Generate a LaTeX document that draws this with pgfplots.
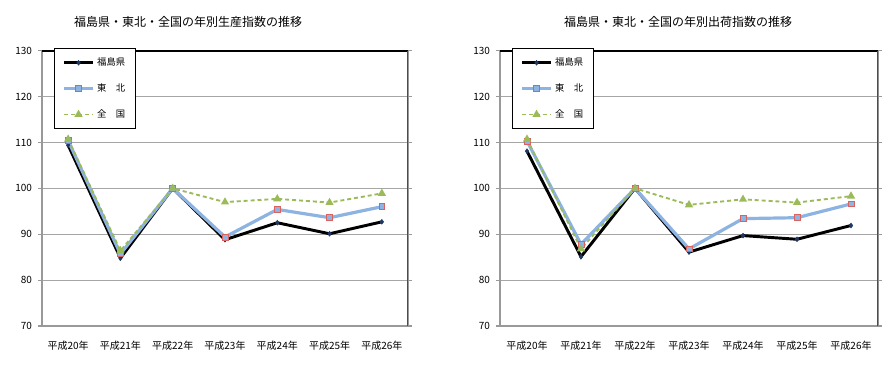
\documentclass[border=0pt]{standalone}
\usepackage{pgfplots}
\pgfplotsset{compat=1.18}
\usepackage{fontspec}
\setmainfont{Noto Sans CJK JP}
\definecolor{fkblack}{HTML}{000000}
\definecolor{fkmark}{HTML}{1F3864}
\definecolor{thblue}{HTML}{8DB3E2}
\definecolor{thred}{HTML}{D9625F}
\definecolor{zkgreen}{HTML}{9BBB59}
\pgfplotsset{
  base/.style={
    scale only axis,
    height=206.5pt,
    ymin=70, ymax=130,
    ytick={70,80,...,130},
    xmin=-0.5, xmax=6.5,
    xtick={-0.5,0.5,...,6.5},
    x tick label as interval,
    xticklabels={平成20年,平成21年,平成22年,平成23年,平成24年,平成25年,平成26年},
    ymajorgrids,
    grid style={draw=gray!70, line width=0.8pt},
    axis line style={draw=gray!80, line width=1.3pt},
    tick align=outside,
    major tick length=3pt,
    tick style={draw=gray!80, line width=0.8pt},
    major x tick style={draw=none},
    ticklabel style={font=\fontsize{7.5}{8}\selectfont},
    /pgf/number format/assume math mode=true,
    yticklabel style={xshift=-1pt},
    xticklabel style={yshift=-5pt},
    legend cell align=left,
    legend style={at={(0,1)}, anchor=north west, xshift=9pt, yshift=2pt,
      draw=black, line width=0.8pt, font=\fontsize{7}{8}\selectfont,
      row sep=8pt, inner xsep=6pt, inner ysep=5pt},
    legend image code/.code={\draw[mark repeat=2,mark phase=2,##1] plot coordinates {(0cm,0cm) (0.38cm,0cm) (0.76cm,0cm)};},
  },
  fk/.style={draw=black, line width=2.2pt, mark=diamond*, mark size=1.8pt, mark options={solid, draw=fkmark, fill=fkmark, line width=0.4pt}},
  th/.style={draw=thblue, line width=2.4pt, mark=square*, mark size=2.2pt, mark options={solid, draw=thred, fill=thblue, line width=0.6pt}},
  zk/.style={draw=zkgreen, line width=1.4pt, dash pattern=on 3pt off 2.2pt, mark=triangle*, mark size=2.2pt, mark options={solid, draw=zkgreen, fill=zkgreen}},
}
\newcommand{\chartframe}{%
  \draw[black, line width=1.3pt] (rel axis cs:0,1) -- (rel axis cs:1,1);
  \draw[gray!60!black, line width=1.3pt] (rel axis cs:1,0) -- (rel axis cs:1,1);
  \draw[gray!80, line width=0.8pt] (axis cs:0.5,70) -- ++(0,3pt);
  \draw[gray!80, line width=0.8pt] (axis cs:1.5,70) -- ++(0,3pt);
  \draw[gray!80, line width=0.8pt] (axis cs:2.5,70) -- ++(0,3pt);
  \draw[gray!80, line width=0.8pt] (axis cs:3.5,70) -- ++(0,3pt);
  \draw[gray!80, line width=0.8pt] (axis cs:4.5,70) -- ++(0,3pt);
  \draw[gray!80, line width=0.8pt] (axis cs:5.5,70) -- ++(0,3pt);
}
\begin{document}
\begin{tikzpicture}
\path[use as bounding box] (0,0) rectangle (666pt,275.25pt);
% left chart
\begin{axis}[base, width=274.5pt, at={(31.5pt,30.75pt)}, anchor=south west]
\addplot[fk] coordinates {(0,109.4) (1,84.8) (2,100.0) (3,88.8) (4,92.5) (5,90.1) (6,92.7)};
\addlegendentry{福島県}
\addplot[th] coordinates {(0,110.4) (1,85.7) (2,100.0) (3,89.4) (4,95.4) (5,93.6) (6,96.0)};
\addlegendentry{東　北}
\addplot[zk] coordinates {(0,110.7) (1,86.4) (2,100.0) (3,97.0) (4,97.7) (5,96.9) (6,98.9)};
\addlegendentry{全　国}
\chartframe
\end{axis}
% right chart
\begin{axis}[base, width=283.5pt, at={(375pt,30.75pt)}, anchor=south west]
\addplot[fk] coordinates {(0,108.1) (1,85.1) (2,100.0) (3,86.1) (4,89.7) (5,88.9) (6,91.9)};
\addlegendentry{福島県}
\addplot[th] coordinates {(0,110.3) (1,87.8) (2,100.0) (3,86.8) (4,93.4) (5,93.6) (6,96.6)};
\addlegendentry{東　北}
\addplot[zk] coordinates {(0,110.7) (1,86.8) (2,100.0) (3,96.4) (4,97.6) (5,96.9) (6,98.3)};
\addlegendentry{全　国}
\chartframe
\end{axis}
\node[font=\fontsize{9}{10}\selectfont] at (141pt,258.75pt) {福島県・東北・全国の年別生産指数の推移};
\node[font=\fontsize{9}{10}\selectfont] at (508.5pt,258.75pt) {福島県・東北・全国の年別出荷指数の推移};
\end{tikzpicture}
\end{document}
